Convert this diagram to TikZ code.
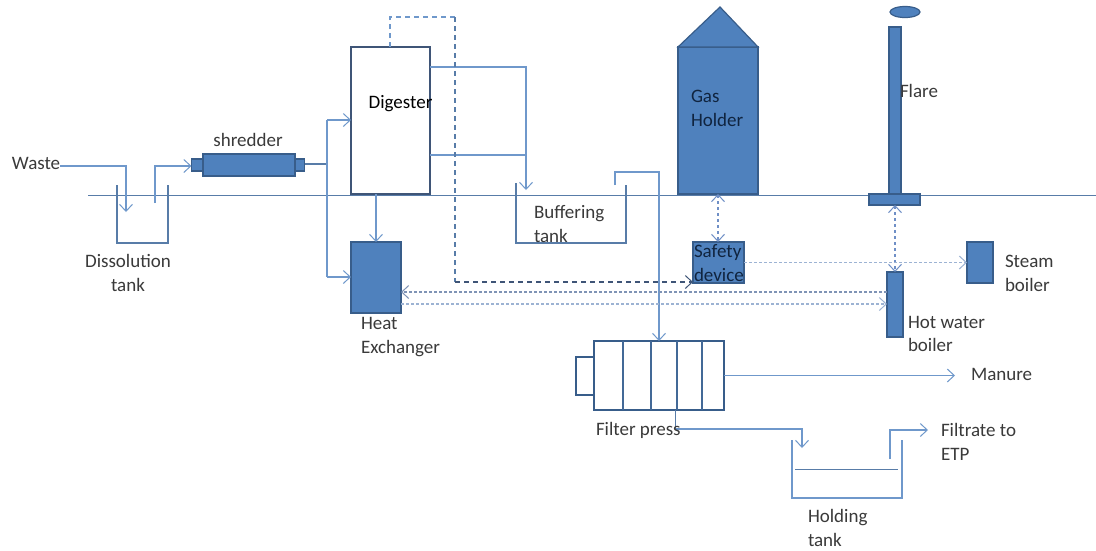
\documentclass[tikz,border=0pt]{standalone}
\usepackage{fontspec}
\setmainfont{Carlito}
\usetikzlibrary{arrows.meta,shapes.geometric}
\definecolor{pipe}{HTML}{6F98CB}
\definecolor{pipedk}{HTML}{587CA8}
\definecolor{fillb}{HTML}{4F81BD}
\definecolor{edgeb}{HTML}{385D8A}
\definecolor{boxe}{HTML}{3F5577}
\definecolor{txt}{HTML}{3A3A3A}
\definecolor{dtxt}{HTML}{10243F}
\definecolor{dotdk}{HTML}{7F93B5}
\definecolor{dotlt}{HTML}{9DB3D3}
\definecolor{dbl}{HTML}{6F8FC6}
\tikzset{
  >={Straight Barb[length=7pt,width=13pt,line width=1pt]},
  pipeline/.style={draw=pipe,line width=1.1pt},
  dashline/.style={draw=pipedk,line width=1.1pt,dash pattern=on 5pt off 4pt},
  dotline/.style={draw=dotlt,line width=1.3pt,dash pattern=on 3pt off 2pt},
  dblline/.style={draw=dbl,line width=1.3pt,dash pattern=on 3pt off 3pt},
  tankwall/.style={draw=pipedk,line width=1.3pt},
  solidbox/.style={draw=edgeb,line width=1.2pt,fill=fillb,inner sep=0pt,outer sep=0pt},
  openbox/.style={draw=boxe,line width=1.8pt,fill=white,inner sep=0pt,outer sep=0pt},
  pressbox/.style={draw=edgeb,line width=1.6pt,fill=white,inner sep=0pt,outer sep=0pt},
  lbl/.style={inner sep=0pt,outer sep=0pt,text=txt,font=\fontsize{19}{23.5}\selectfont,align=left,anchor=west},
  dlbl/.style={lbl,text=dtxt},
  size/.style 2 args={minimum width=#1pt,minimum height=#2pt}
}
\begin{document}
\begin{tikzpicture}[x=1pt,y=-1pt]
\useasboundingbox (0,0) rectangle (1096,550);
\fill[white] (0,0) rectangle (1096,550);

% ground line
\coordinate (g1) at (88,195);
\coordinate (g2) at (1096,195);
\draw[draw=pipedk,line width=1pt] (g1) -- (g2);

% dissolution tank
\draw[tankwall] (117,185) -- (117,243) -- (168,243) -- (168,185);
\node[lbl,align=center,anchor=center] (dislbl) at (128,273) {Dissolution\\tank};
\node[lbl] (waste) at (12,163) {Waste};
\coordinate (wasteend) at (126,212);
\draw[pipeline,->] (waste.east |- 0,166) -- (126,166) -- (wasteend);

% shredder
\node[solidbox,size={12}{12}] (shredL) at (197.5,165) {};
\node[solidbox,size={10}{12}] (shredR) at (299.5,165) {};
\node[solidbox,size={92}{22},fill=fillb] (shred) at (249,165) {};
\node[lbl,anchor=center] (shredlbl) at (248,140) {shredder};
\coordinate (dissout) at (155,203);
\draw[pipeline,->] (dissout) -- (155,166) -- (shredL.west |- 0,166);

% digester
\node[openbox,size={79}{147}] (digester) at (390.5,120.5) {};

% heat exchanger
\node[solidbox,size={50}{71}] (hx) at (376,277.5) {};
\node[lbl] (hxlbl) at (361,337) {Heat\\Exchanger};

% shredder to digester and exchanger
\coordinate (split) at (327,164);
\draw[draw=pipedk,line width=1.1pt] (shredR.east |- split) -- (split);
\draw[pipeline,line width=1.4pt,->] (327,120) -- (digester.west |- 0,120);
\draw[pipeline,line width=1.4pt,->] (327,277) -- (hx.west |- 0,277);
\draw[pipeline,line width=1.4pt] (327,120) -- (327,277);
\draw[pipeline,->] (digester.south -| 376,0) -- (hx.north -| 376,0);

% buffering tank
\draw[tankwall] (516,183) -- (516,243) -- (626,243) -- (626,185);
\node[lbl] (buflbl) at (534,224) {Buffering\\tank};
\coordinate (bufin) at (526,190);
\draw[pipeline] (digester.east |- 0,67) -- (526,67) -- (526,155);
\draw[pipeline,->] (digester.east |- 0,155) -- (526,155) -- (bufin);
\coordinate (bufout) at (615,185);

% filter press
\node[pressbox,size={18}{38}] (presshead) at (585,376) {};
\node[pressbox,size={130}{69}] (press) at (659,375.5) {};
\foreach \px in {623,651,677,702}{
  \draw[draw=edgeb!80!pipe,line width=1.6pt] (\px,341) -- (\px,410);
}
\draw[pipeline,->] (bufout) -- (615,172) -- (659,172) -- (press.north -| 659,0);

% manure
\node[lbl] (manure) at (971,374) {Manure};
\draw[pipeline,->] (press.east) -- (955,375.5);

% holding tank
\draw[tankwall,draw=pipe,line width=1.5pt] (792,440) -- (792,498) -- (902,498) -- (902,440);
\coordinate (lvl1) at (795,469);
\coordinate (lvl2) at (898,469);
\draw[draw=pipedk,line width=1pt] (lvl1) -- (lvl2);
\node[lbl] (holdlbl) at (808,528) {Holding\\tank};
\coordinate (holdin) at (802,448);
\draw[pipeline,->] (675,429) -- (802,429) -- (holdin);
\draw[draw=pipedk,line width=1pt] (press.south -| 675,0) -- (675,429);
\node[lbl] (presslbl) at (596,430) {Filter press};
\node[lbl] (filtrate) at (941,442) {Filtrate to\\ETP};
\coordinate (holdout) at (890,459);
\coordinate (etp) at (928,430);
\draw[pipeline,->] (holdout) -- (890,430) -- (etp);

% gas holder
\node[solidbox,size={80}{147}] (gas) at (718,120.5) {};
\coordinate (apex) at (720,7);
\path[solidbox,draw=edgeb] (gas.north west) -- (apex) -- (gas.north east) -- cycle;
\node[dlbl] (gaslbl) at (691,108.5) {Gas\\Holder};

% safety device
\node[solidbox,size={51}{41}] (safety) at (718.5,262.5) {};
\node[dlbl] (safelbl) at (694,263) {Safety\\device};
\draw[dblline,<->] (gas.south -| 718,0) -- (safety.north -| 718,0);

% dashed biogas line
\draw[dashline,draw=pipe] (digester.north -| 390,0) -- (390,17) -- (455,17);
\draw[dashline] (455,17) -- (455,282);
\draw[dashline,draw=boxe,->] (455,282) -- (safety.west |- 0,282);

% flare
\node[solidbox,size={12}{167}] (stem) at (895,110.5) {};
\node[solidbox,size={51}{11}] (flarebase) at (894.5,199.5) {};
\node[solidbox,ellipse,minimum width=30pt,minimum height=11pt] (flame) at (905,12) {};
\node[lbl] (flarelbl) at (900,91) {Flare};

% boilers
\node[solidbox,size={16}{65}] (hwb) at (895,304.5) {};
\node[lbl] (hwblbl) at (908,334) {Hot water\\boiler};
\node[solidbox,size={26}{41}] (steam) at (980,262.5) {};
\node[lbl] (steamlbl) at (1005,273.5) {Steam\\boiler};
\draw[dblline,<->] (flarebase.south -| 895,0) -- (hwb.north);
\draw[dotline,->] (safety.east) -- (steam.west);

% exchanger to boiler
\draw[dotline,draw=dotdk,->] (hwb.west |- 0,292) -- (hx.east |- 0,292);
\draw[dotline,->] (hx.east |- 0,304) -- (hwb.west |- 0,304);

% digester label sits over the pipes
\node[lbl,text=black,anchor=center] (diglbl) at (400.5,104) {Digester};
\end{tikzpicture}
\end{document}
